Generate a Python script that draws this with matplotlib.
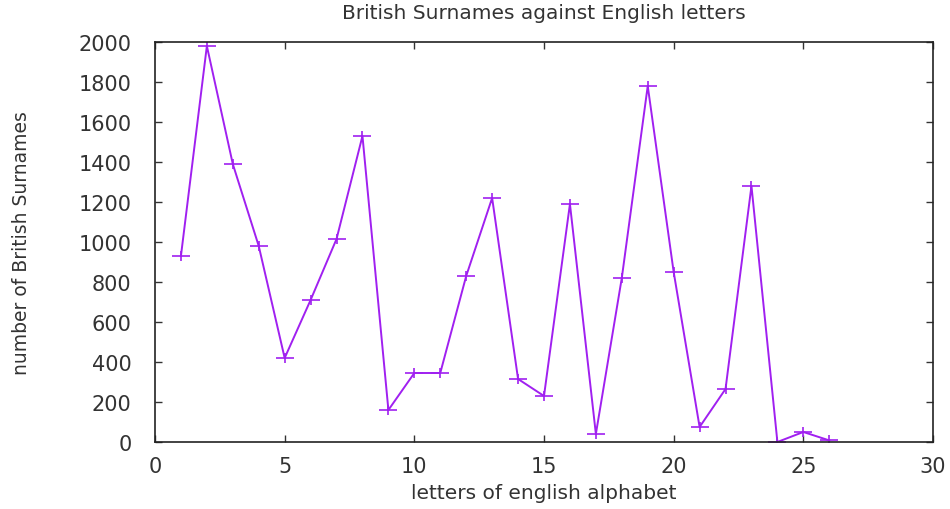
import matplotlib
matplotlib.use("Agg")
import matplotlib.pyplot as plt
from matplotlib.path import Path

letters = list(range(1, 27))
surnames = [930, 1980, 1390, 980, 420, 710, 1015, 1530, 160, 345,
            345, 830, 1220, 315, 230, 1190, 40, 820, 1780, 850,
            75, 265, 1280, 0, 50, 8]
x_ticks = [0, 5, 10, 15, 20, 25, 30]
y_ticks = [0, 200, 400, 600, 800, 1000, 1200, 1400, 1600, 1800, 2000]

# wide plus marker (gnuplot-like, horizontally stretched)
wide_plus = Path([(-1, 0), (1, 0), (0, -0.6), (0, 0.6)],
                 [Path.MOVETO, Path.LINETO, Path.MOVETO, Path.LINETO])

plt.rcParams['font.family'] = ['DejaVu Sans']
fig = plt.figure(figsize=(9.5, 5.1), dpi=100)
ax = fig.add_axes([155/950, 1-443/510, (933-155)/950, 400/510])
ax.plot(letters, surnames, color='#a020f0', lw=1.4, marker=wide_plus, ms=13, mew=1.2)
ax.set_xlim(0, 30)
ax.set_ylim(0, 2000)
ax.set_xticks(x_ticks)
ax.set_yticks(y_ticks)
ax.tick_params(direction='in', length=5, width=1, top=True, right=True,
               labelsize=15, colors='#333333')
ax.tick_params(axis='y', pad=17)
ax.tick_params(axis='x', pad=10)
for s in ax.spines.values():
    s.set_linewidth(1.2)
    s.set_color('#222222')
ax.set_title('British Surnames against English letters', fontsize=14.5, pad=17, color='#333333')
ax.set_xlabel('letters of english alphabet', fontsize=14.5, color='#333333', labelpad=5)
ax.set_ylabel('number of British Surnames', fontsize=13.5, color='#333333', labelpad=34)
fig.savefig('out.png', dpi=100)
